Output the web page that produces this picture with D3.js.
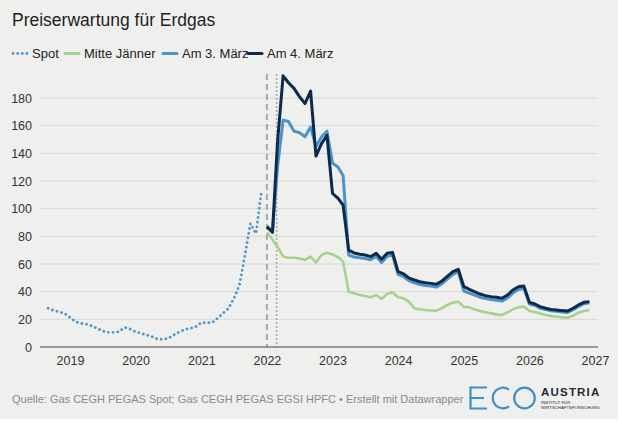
<!DOCTYPE html>
<html><head><meta charset="utf-8">
<script src="https://cdn.jsdelivr.net/npm/d3@7"></script>
<style>
html,body{margin:0;padding:0;background:#fff;}
svg{display:block;}
text{font-family:"Liberation Sans",Arial,sans-serif;}
</style></head>
<body>
<script>
// ---------- data ----------
const spotStart = [2018, 8];            // Sep 2018 (month index 0-based)
const spotValues = [28, 26.4, 25.5, 24.3, 21.4, 18.3, 17.1, 16.6, 15.4, 13.5, 11.6, 10.6, 10.6, 11.1, 14.2, 13, 11, 9.9, 8.7, 7.5, 5.8, 5.5, 6.3, 8.7, 11, 12.7, 13.5, 14.7, 17.6, 17.6, 17.6, 20.7, 24.3, 27.9, 35.1, 44.7, 66.4, 89.3, 82, 112];
const fwdStart = [2022, 0];             // Jan 2022
const janValues = [83, 77.5, 72.5, 65.5, 64.5, 64.5, 64, 63, 65.3, 61.2, 66.5, 68.2, 67, 65, 61.7, 40, 38.8, 37.6, 36.9, 35.9, 37.6, 34.7, 38.3, 39.5, 35.9, 35.2, 32.8, 28, 27.2, 26.8, 26.5, 26.3, 28, 30.4, 32, 32.8, 29, 28.7, 27.2, 26, 25.1, 24.3, 23.6, 23.1, 25.1, 27.2, 28.7, 29.2, 26, 25.3, 24.3, 23.1, 22.4, 21.9, 21.5, 21.2, 22.6, 24.8, 26, 26.8];
const mar3Values = [87, 83, 130, 164, 163, 156, 155, 152, 159, 145, 152, 156, 133, 130, 124, 66.5, 65, 64.5, 64, 63, 65.5, 61, 65.5, 66.5, 52.5, 50.8, 48, 46.4, 45.2, 44.5, 44, 43.3, 45.7, 49, 52.5, 54.5, 40.5, 39, 37.5, 36, 35, 34.3, 33.8, 33.2, 35.5, 39, 41.5, 42.5, 31, 30, 28, 27, 26.2, 25.8, 25.3, 25, 27, 29.3, 31.3, 32];
const mar4Values = [87, 83, 148, 196, 191, 187, 181, 176, 185, 138, 147, 153, 111, 107.5, 102.5, 70, 68, 67, 66.5, 65.3, 67.7, 63.4, 67.7, 68.4, 54.5, 52.8, 50, 48.4, 47.2, 46.5, 46, 45.3, 47.7, 51, 54.5, 56.2, 43.6, 41.7, 40, 38.3, 37.1, 36.4, 35.9, 35.2, 37.6, 41.2, 43.6, 44.1, 32.3, 31.1, 29.2, 28, 27.2, 26.8, 26.3, 26, 28, 30.4, 32.3, 32.8];
const yTicks = [0, 20, 40, 60, 80, 100, 120, 140, 160, 180];
const xTickYears = [2019, 2020, 2021, 2022, 2023, 2024, 2025, 2026, 2027];
const markerDates = [new Date(2022, 0, 1), new Date(2022, 1, 24)];
const seriesNames = ["Spot", "Mitte Jänner", "Am 3. März", "Am 4. März"];
const seriesColors = ["#4f98cb", "#a4d389", "#4a93cb", "#0c2a4b"];

function monthly(start, values) {
  return values.map((v, i) => ({ date: new Date(start[0], start[1] + i, 1), value: v }));
}
const spot = monthly(spotStart, spotValues);
const jan = monthly(fwdStart, janValues);
const mar3 = monthly(fwdStart, mar3Values);
const mar4 = monthly(fwdStart, mar4Values);

// ---------- layout ----------
const W = 622, H = 424;
const svg = d3.select("body").append("svg").attr("width", W).attr("height", H);
svg.append("rect").attr("x", 0).attr("y", 0).attr("width", 618).attr("height", 419).attr("fill", "#efefee");

const x = d3.scaleTime().domain([new Date(2019, 0, 1), new Date(2027, 0, 1)]).range([70, 595]);
const y = d3.scaleLinear().domain([0, 180]).range([347, 98]);
const plotL = 40, plotR = 598;

// title
svg.append("text").attr("x", 12).attr("y", 26).attr("font-size", 17.5).attr("fill", "#1e1e1e").text("Preiserwartung für Erdgas");

// legend
const legend = svg.append("g").attr("transform", "translate(0,58)");
const legX = [12, 64, 162, 247];
seriesNames.forEach((n, i) => {
  const g = legend.append("g").attr("transform", `translate(${legX[i]},0)`);
  const ln = g.append("line").attr("x1", 1).attr("x2", 15).attr("y1", -4.5).attr("y2", -4.5)
    .attr("stroke", seriesColors[i]).attr("stroke-width", 3).attr("stroke-linecap", "round");
  if (i === 0) ln.attr("stroke-dasharray", "0.1 4.5").attr("stroke-width", 2.8);
  g.append("text").attr("x", 20).attr("y", 0).attr("font-size", 13).attr("fill", "#222").text(n);
});

// gridlines
svg.append("g").selectAll("line").data(yTicks.filter(d => d > 0)).join("line")
  .attr("x1", plotL).attr("x2", plotR).attr("y1", d => y(d)).attr("y2", d => y(d))
  .attr("stroke", "#d8d8d6").attr("stroke-width", 1);

// y axis labels
const yAxis = d3.axisLeft(y).tickValues(yTicks).tickSize(0).tickPadding(0).tickFormat(d3.format("d"));
const yg = svg.append("g").attr("transform", "translate(32,0)").call(yAxis);
yg.select(".domain").remove();
yg.selectAll("text").attr("font-size", 12.5).attr("fill", "#333").attr("font-family", "Liberation Sans, Arial, sans-serif");

// x axis
const xAxis = d3.axisBottom(x).tickValues(xTickYears.map(yr => new Date(yr, 0, 1))).tickSize(0).tickPadding(9).tickFormat(d3.timeFormat("%Y"));
const xg = svg.append("g").attr("transform", "translate(0,347)").call(xAxis);
xg.select(".domain").remove();
xg.selectAll("text").attr("font-size", 12.5).attr("fill", "#333").attr("font-family", "Liberation Sans, Arial, sans-serif");

// marker lines
svg.append("line").attr("x1", x(markerDates[0])).attr("x2", x(markerDates[0])).attr("y1", 74).attr("y2", 347)
  .attr("stroke", "#a9a9a9").attr("stroke-width", 2).attr("stroke-dasharray", "6 4");
svg.append("line").attr("x1", x(markerDates[1])).attr("x2", x(markerDates[1])).attr("y1", 74).attr("y2", 347)
  .attr("stroke", "#a9a9a9").attr("stroke-width", 1.6).attr("stroke-dasharray", "2 2");

// baseline
svg.append("line").attr("x1", plotL).attr("x2", plotR).attr("y1", y(0)).attr("y2", y(0)).attr("stroke", "#444").attr("stroke-width", 1.2);

// lines
const line = d3.line().x(d => x(d.date)).y(d => y(d.value)).curve(d3.curveLinear);
svg.append("path").datum(spot).attr("d", line).attr("fill", "none").attr("stroke", seriesColors[0])
  .attr("stroke-width", 2.8).attr("stroke-linecap", "round").attr("stroke-dasharray", "0.1 4.6");
svg.append("path").datum(jan).attr("d", line).attr("fill", "none").attr("stroke", seriesColors[1])
  .attr("stroke-width", 2.6).attr("stroke-linejoin", "round");
svg.append("path").datum(mar3).attr("d", line).attr("fill", "none").attr("stroke", seriesColors[2])
  .attr("stroke-width", 3).attr("stroke-linejoin", "round");
svg.append("path").datum(mar4).attr("d", line).attr("fill", "none").attr("stroke", seriesColors[3])
  .attr("stroke-width", 3).attr("stroke-linejoin", "round");

// footer
svg.append("text").attr("x", 12).attr("y", 403).attr("font-size", 11).attr("fill", "#8a8a8a")
  .text("Quelle: Gas CEGH PEGAS Spot; Gas CEGH PEGAS EGSI HPFC • Erstellt mit Datawrapper");

// logo
const logo = svg.append("g").attr("transform", "translate(469,386)");
const blue = "#3d8fca";
// E
logo.append("path").attr("d", "M18,1.5 H1.5 V22.5 H18 M1.5,12 H15").attr("fill", "none").attr("stroke", blue).attr("stroke-width", 2.2);
// C (opening to the right)
logo.append("path").attr("d", d3.arc()({innerRadius: 9.2, outerRadius: 11.4, startAngle: Math.PI * 0.8, endAngle: Math.PI * 2.2}))
  .attr("transform", "translate(34,12)").attr("fill", blue);
// O
logo.append("circle").attr("cx", 55.5).attr("cy", 12).attr("r", 10.3).attr("fill", "none").attr("stroke", blue).attr("stroke-width", 2.2);
svg.append("text").attr("x", 541).attr("y", 396).attr("font-size", 11.5).attr("font-weight", "bold").attr("letter-spacing", 1.2).attr("fill", "#1d2a36").text("AUSTRIA");
svg.append("text").attr("x", 541).attr("y", 403.5).attr("font-size", 4.3).attr("fill", "#1d2a36").text("INSTITUT FÜR");
svg.append("text").attr("x", 541).attr("y", 408.5).attr("font-size", 4.3).attr("fill", "#1d2a36").text("WIRTSCHAFTSFORSCHUNG");
</script>
</body></html>
